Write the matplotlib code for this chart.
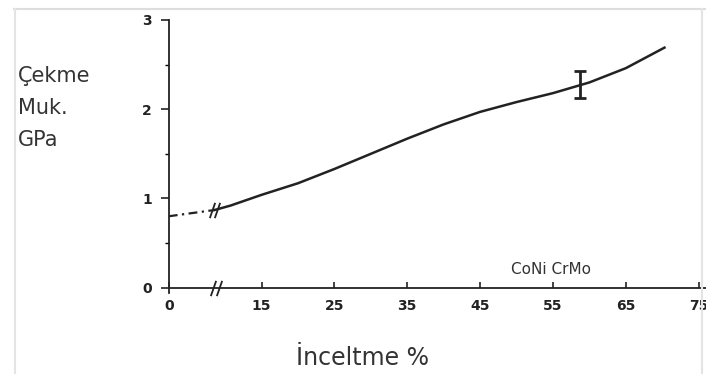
import numpy as np
import matplotlib
matplotlib.use("Agg")
import matplotlib.pyplot as plt
from matplotlib.lines import Line2D

# data
dash_x = [0, 7.4]
dash_y = [0.80, 0.87]
curve_x = [7.4, 10, 15, 20, 25, 30, 35, 40, 45, 50, 55, 60, 65, 70.3]
curve_y = [0.87, 0.92, 1.04, 1.17, 1.33, 1.50, 1.67, 1.83, 1.97, 2.08, 2.18, 2.30, 2.46, 2.69]
err_x = [58.7]
err_y = [2.27]
err_lo = [0.15]
err_hi = [0.16]
x_ticks = [0, 15, 25, 35, 45, 55, 65, 75]
y_ticks = [0, 1, 2, 3]
break_x = 7.4

# broken x axis: 0..15 squeezed
def fwd(x):
    return np.interp(x, [0, 15, 200], [2.26, 15, 200])

def inv(x):
    return np.interp(x, [2.26, 15, 200], [0, 15, 200])

fig = plt.figure(figsize=(7.06, 3.74), dpi=100)
ax = fig.add_axes([0.239, 0.2166, 0.761, 0.73])
ax.set_xscale('function', functions=(fwd, inv))

ink = '#222222'
ax.plot(dash_x, dash_y, color=ink, lw=1.6, ls=(0, (4, 2, 1, 2)))
ax.plot(curve_x, curve_y, color=ink, lw=1.8)
ax.errorbar(err_x, err_y, yerr=[err_lo, err_hi], fmt='none', ecolor=ink,
            elinewidth=2, capsize=4, capthick=2)

# break marks on curve and on x axis
slash = [(-0.35, -1), (0.35, 1)]
for dx in (-0.45, 0.45):
    ax.plot([break_x + dx], [np.interp(break_x, curve_x, curve_y)], marker=slash,
            ms=11, color=ink, mew=1.3, ls='none')
    ax.plot([break_x + 0.2 + dx], [0], marker=slash, ms=11, color=ink,
            mew=1.3, ls='none', clip_on=False)

ax.set_xlim(0, 76)
ax.set_ylim(-0.06, 3)
ax.spines['top'].set_visible(False)
ax.spines['right'].set_visible(False)
ax.spines['bottom'].set_position(('data', 0))
ax.spines['left'].set_bounds(-0.06, 3)
for s in ('left', 'bottom'):
    ax.spines[s].set_color(ink)
    ax.spines[s].set_linewidth(1.3)

ax.set_xticks(x_ticks)
ax.set_xticklabels([str(t) for t in x_ticks])
ax.set_yticks(y_ticks)
ax.set_yticks([0.5, 1.5, 2.5], minor=True)
ax.tick_params(axis='x', direction='in', length=4, width=1.2, pad=8,
               labelsize=10, colors=ink)
ax.tick_params(axis='y', direction='out', length=6, width=1.2, pad=6,
               labelsize=10, colors=ink)
ax.tick_params(axis='y', which='minor', direction='out', length=3, width=1.0)
for lab in ax.get_xticklabels() + ax.get_yticklabels():
    lab.set_fontweight('bold')

fig.text(0.025, 0.71, 'Çekme\nMuk.\nGPa', fontsize=15, color='#333333',
         va='center', ha='left', linespacing=1.75)
fig.text(0.513, 0.043, 'İnceltme %', fontsize=17, color='#333333',
         ha='center', va='center')
ax.text(0.637, 0.085, 'CoNi CrMo', transform=ax.transAxes, fontsize=11,
        color='#333333', ha='left', va='center')

# faint frame from the scan
fig.add_artist(Line2D([0.02, 1.0], [0.975, 0.975], color='#dddddd', lw=1.5))
fig.add_artist(Line2D([0.021, 0.021], [0.0, 0.975], color='#e4e4e4', lw=1.5))
fig.add_artist(Line2D([0.994, 0.994], [0.0, 0.975], color='#e4e4e4', lw=1.5))

fig.savefig('out.png', dpi=100, facecolor='white')
